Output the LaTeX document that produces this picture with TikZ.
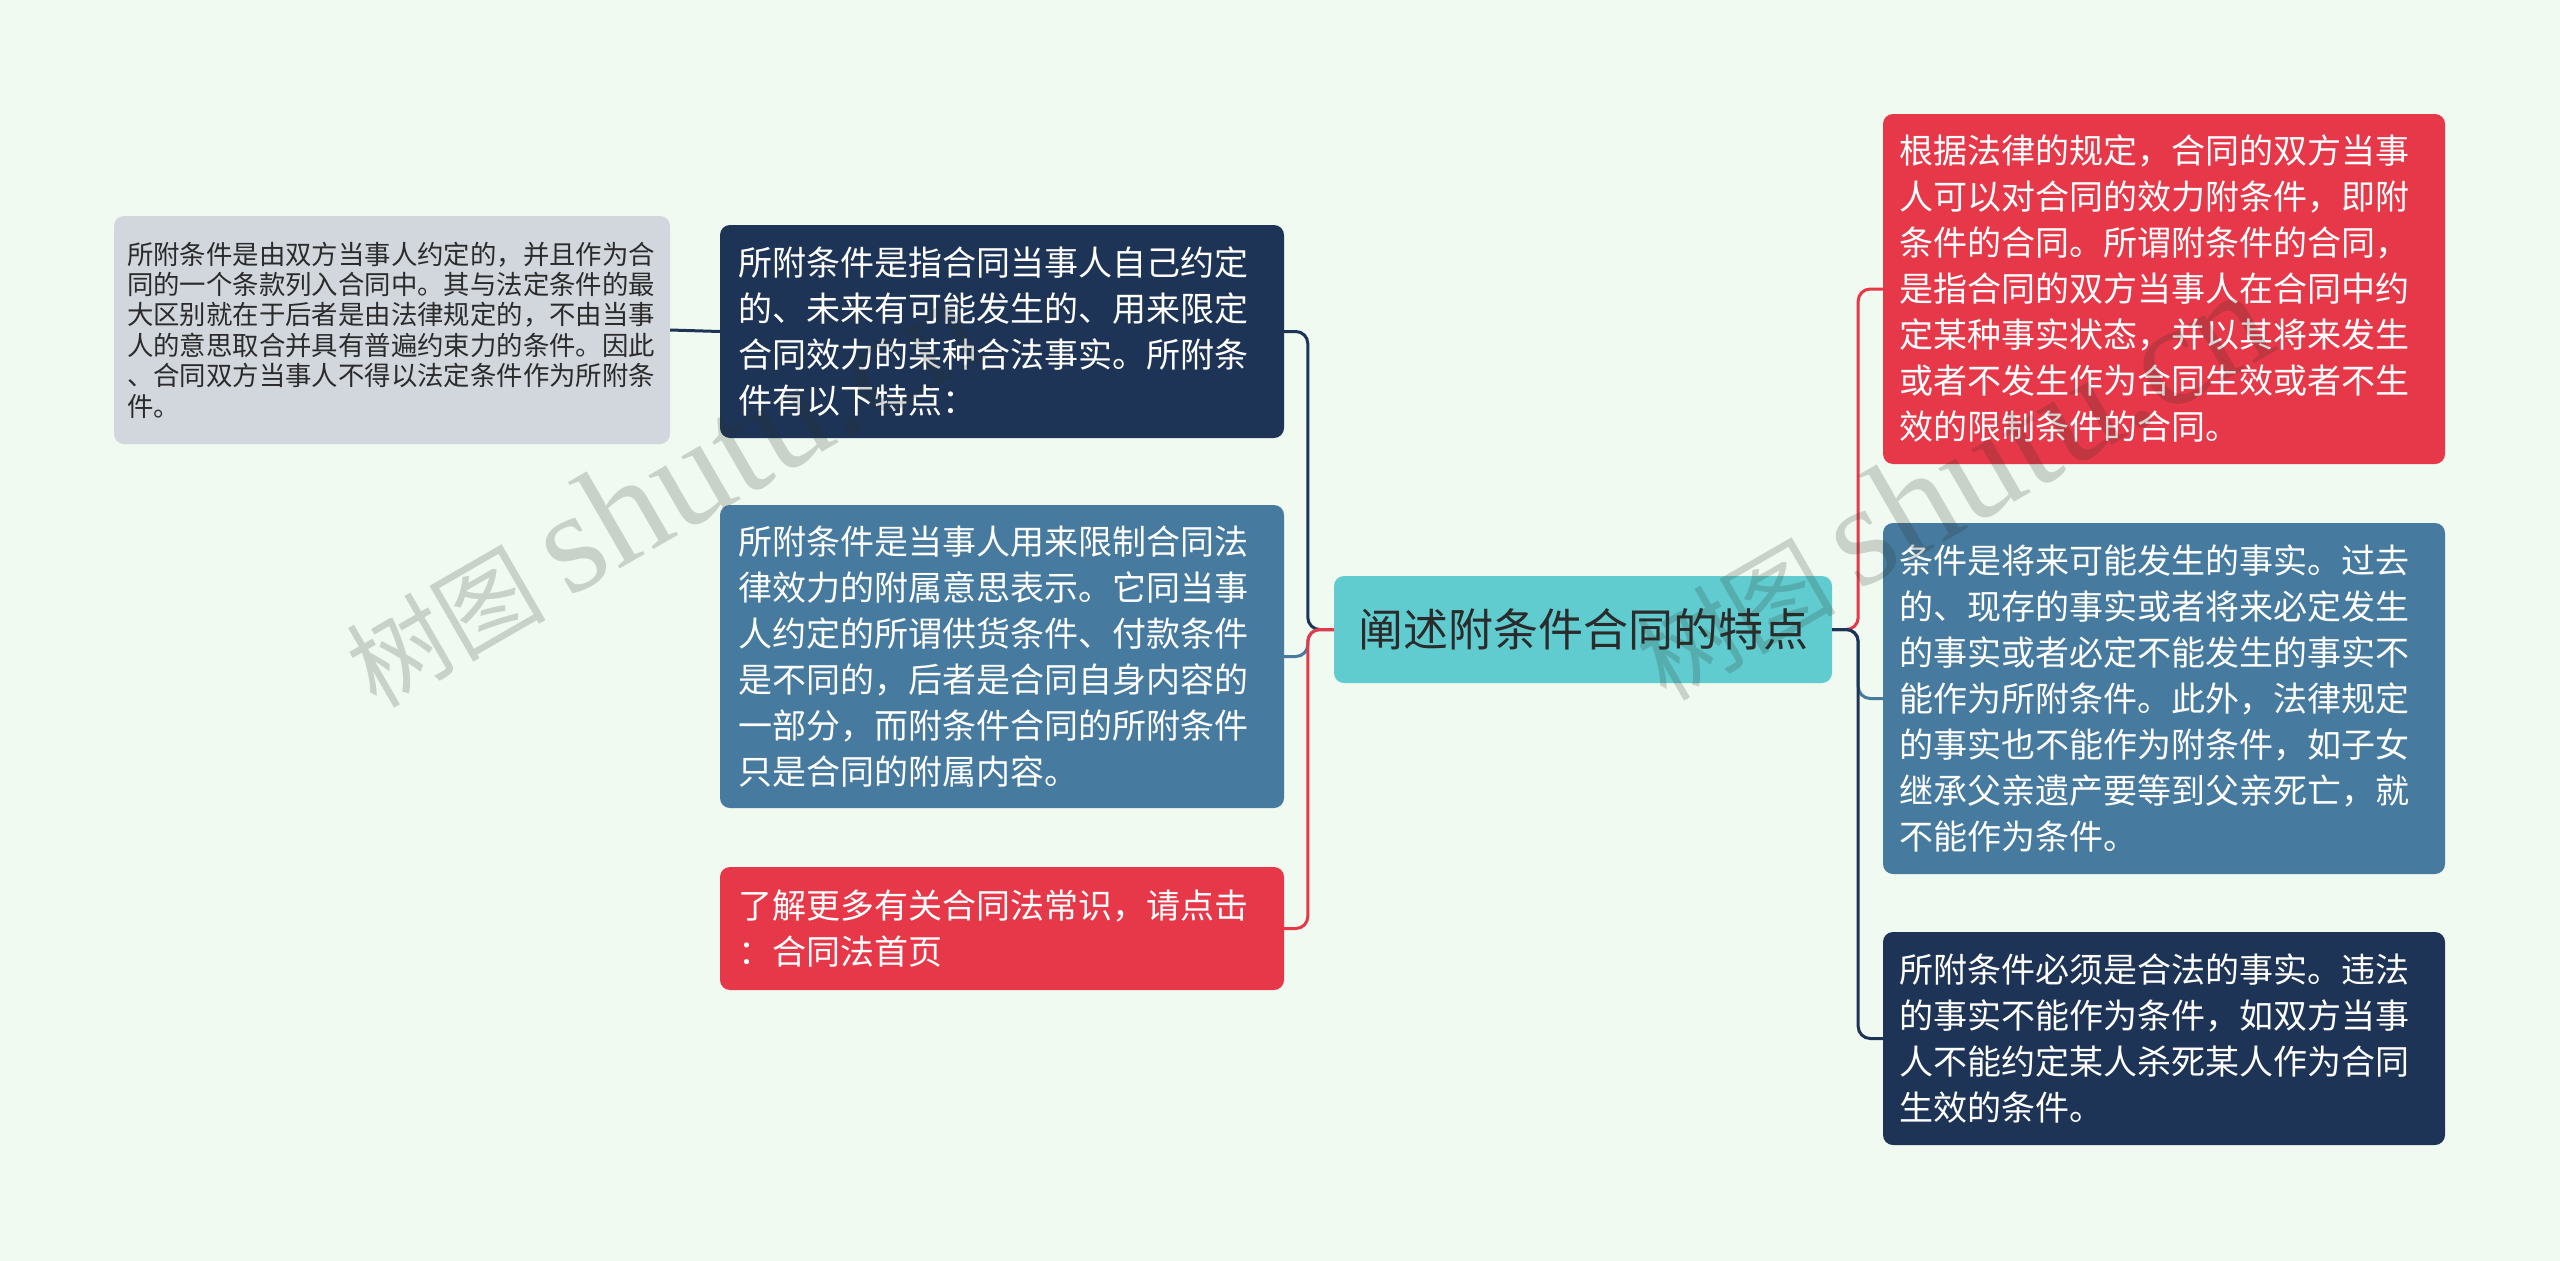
\documentclass[tikz,border=0pt]{standalone}
\usepackage{fontspec}
\setmainfont{Noto Sans CJK SC}
\newfontfamily\wmlatin{Liberation Serif}
\usetikzlibrary{calc}
\definecolor{bgc}{HTML}{F0FAF0}
\definecolor{navyc}{HTML}{1E3456}
\definecolor{steelc}{HTML}{467A9E}
\definecolor{redc}{HTML}{E63848}
\definecolor{tealc}{HTML}{60CCD0}
\definecolor{grayc}{HTML}{D2D7DE}
\definecolor{darktext}{HTML}{2B2B2B}
\definecolor{wmgray}{HTML}{2A332A}
\begin{document}
\begin{tikzpicture}[x=1pt,y=-1pt,
  box/.style={rounded corners=10pt, inner xsep=18pt, inner ysep=0pt, align=left,
    text=white, font=\fontsize{34}{46}\selectfont},
  lbox/.style={box, text width=528pt, minimum width=564pt},
  rbox/.style={box, inner xsep=16pt, text width=530pt, minimum width=562pt},
  conn/.style={line width=3pt, rounded corners=12pt},
  wmark/.style={rotate=30, anchor=base west, inner sep=0pt, text=wmgray, opacity=0.2,
    font=\fontsize{100}{100}\selectfont},
]
\fill[bgc] (0,0) rectangle (2560,1261);
\useasboundingbox (0,0) rectangle (2560,1261);

% central topic
\node[rounded corners=10pt, fill=tealc, text=darktext, minimum width=498pt, minimum height=107pt,
  inner sep=0pt, font=\fontsize{45}{50}\selectfont] (c) at (1583,629.5) {阐述附条件合同的特点};

% left branch
\node[lbox, fill=navyc, minimum height=213pt] (b1) at (1002,331.5) {所附条件是指合同当事人自己约定\\的、未来有可能发生的、用来限定\\合同效力的某种合法事实。所附条\\件有以下特点：};
\node[lbox, fill=steelc, minimum height=303pt] (b3) at (1002,656.5) {所附条件是当事人用来限制合同法\\律效力的附属意思表示。它同当事\\人约定的所谓供货条件、付款条件\\是不同的，后者是合同自身内容的\\一部分，而附条件合同的所附条件\\只是合同的附属内容。};
\node[lbox, fill=redc, minimum height=123pt] (bred) at (1002,928.5) {了解更多有关合同法常识，请点击\\：合同法首页};
\node[box, fill=grayc, text=darktext, inner xsep=13pt, text width=530pt, minimum width=556pt,
  minimum height=228pt, font=\fontsize{26.4}{30.4}\selectfont] (g) at (392,330) {所附条件是由双方当事人约定的，并且作为合\\同的一个条款列入合同中。其与法定条件的最\\大区别就在于后者是由法律规定的，不由当事\\人的意思取合并具有普遍约束力的条件。因此\\、合同双方当事人不得以法定条件作为所附条\\件。};

% right branch
\node[rbox, fill=redc, minimum height=350pt] (r1) at (2164,289) {根据法律的规定，合同的双方当事\\人可以对合同的效力附条件，即附\\条件的合同。所谓附条件的合同，\\是指合同的双方当事人在合同中约\\定某种事实状态，并以其将来发生\\或者不发生作为合同生效或者不生\\效的限制条件的合同。};
\node[rbox, fill=steelc, minimum height=351pt] (r2) at (2164,698.5) {条件是将来可能发生的事实。过去\\的、现存的事实或者将来必定发生\\的事实或者必定不能发生的事实不\\能作为所附条件。此外，法律规定\\的事实也不能作为附条件，如子女\\继承父亲遗产要等到父亲死亡，就\\不能作为条件。};
\node[rbox, fill=navyc, minimum height=213pt] (r3) at (2164,1038.5) {所附条件必须是合法的事实。违法\\的事实不能作为条件，如双方当事\\人不能约定某人杀死某人作为合同\\生效的条件。};

% connectors
\draw[conn, navyc] (b1.west) -- (g.east);
\draw[conn, navyc] (c.west) -- ++(-26,0) |- (b1.east);
\draw[conn, steelc] (c.west) -- ++(-26,0) |- (b3.east);
\draw[conn, redc] (c.west) -- ++(-26,0) |- (bred.east);
\draw[conn, redc] (c.east) -- ++(26,0) |- (r1.west);
\draw[conn, steelc] (c.east) -- ++(26,0) |- (r2.west);
\draw[conn, navyc] (c.east) -- ++(26,0) |- (r3.west);

% watermarks
\node[wmark] (wm1) at (376,710) {树图 {\wmlatin\fontsize{145}{145}\selectfont shutu.cn}};
\node[wmark] (wm2) at (1666,703) {树图 {\wmlatin\fontsize{145}{145}\selectfont shutu.cn}};
\end{tikzpicture}
\end{document}
